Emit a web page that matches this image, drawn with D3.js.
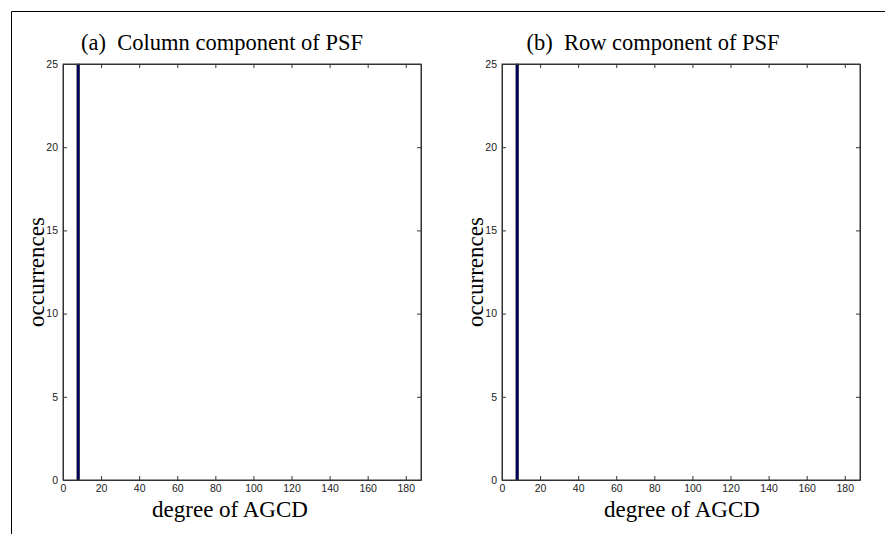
<!DOCTYPE html>
<html lang="en">
<head>
<meta charset="UTF-8">
<title>AGCD histograms</title>
<script src="https://cdnjs.cloudflare.com/ajax/libs/d3/7.8.5/d3.min.js"></script>
<style>
  body { margin: 0; background: #fff; }
  .tick text { font-family: "Liberation Sans", Arial, sans-serif; font-size: 10.5px; fill: #222; }
</style>
</head>
<body>
<svg width="885" height="534" id="canvas"></svg>
<script>
// histogram data (only one non-empty bin per panel)
const panelTitles = ["(a)\u00a0 Column component of PSF", "(b)\u00a0 Row component of PSF"];
const binDegrees = [8];
const columnCounts = [25];
const rowCounts = [25];
const xTicks = [0, 20, 40, 60, 80, 100, 120, 140, 160, 180];
const yTicks = [0, 5, 10, 15, 20, 25];

const svg = d3.select("#canvas");

// outer frame (left + top only)
svg.append("path")
  .attr("d", "M11.5,534 L11.5,11.5 L885,11.5")
  .attr("fill", "none").attr("stroke", "#000").attr("stroke-width", 1);

const panels = [
  { left: 63, right: 421, title: panelTitles[0], titleX: 222, xlabX: 230, counts: columnCounts },
  { left: 502, right: 860, title: panelTitles[1], titleX: 653, xlabX: 682, counts: rowCounts }
];
const plotTop = 64, plotBottom = 480;

panels.forEach(p => {
  const x = d3.scaleLinear().domain([0, 188]).range([p.left, p.right]);
  const y = d3.scaleLinear().domain([0, 25]).range([plotBottom, plotTop]);
  const g = svg.append("g");

  // bars
  g.selectAll("rect.bar")
    .data(binDegrees.map((d, i) => ({ deg: d, n: p.counts[i] })))
    .join("rect")
    .attr("class", "bar")
    .attr("x", d => x(d.deg - 0.7))
    .attr("width", d => x(d.deg + 0.7) - x(d.deg - 0.7))
    .attr("y", d => y(Math.min(d.n, 25)))
    .attr("height", d => plotBottom - y(Math.min(d.n, 25)))
    .attr("fill", "#000066")
    .attr("stroke", "#000").attr("stroke-width", 0.5);

  // axes with inward ticks
  g.append("g").attr("transform", `translate(0,${plotBottom})`)
    .call(d3.axisBottom(x).tickValues(xTicks).tickSizeInner(-4).tickSizeOuter(0).tickPadding(5));
  g.append("g").attr("transform", `translate(${p.left},0)`)
    .call(d3.axisLeft(y).tickValues(yTicks).tickSizeInner(-4).tickSizeOuter(0).tickPadding(5));
  // mirrored ticks top/right
  g.append("g").attr("transform", `translate(0,${plotTop})`)
    .call(d3.axisTop(x).tickValues(xTicks).tickSizeInner(-4).tickSizeOuter(0).tickFormat(""));
  g.append("g").attr("transform", `translate(${p.right},0)`)
    .call(d3.axisRight(y).tickValues(yTicks).tickSizeInner(-4).tickSizeOuter(0).tickFormat(""));
  g.selectAll(".domain").attr("stroke", "#333");
  g.selectAll(".tick line").attr("stroke", "#333");

  // box
  g.append("rect").attr("x", p.left).attr("y", plotTop)
    .attr("width", p.right - p.left).attr("height", plotBottom - plotTop)
    .attr("fill", "none").attr("stroke", "#333").attr("stroke-width", 1);

  // labels
  g.append("text").attr("x", p.titleX).attr("y", 50).attr("text-anchor", "middle")
    .attr("font-family", "'Liberation Serif', 'Times New Roman', serif").attr("font-size", 22.5)
    .text(p.title);
  g.append("text").attr("x", p.xlabX).attr("y", 517).attr("text-anchor", "middle")
    .attr("font-family", "'Liberation Serif', 'Times New Roman', serif").attr("font-size", 23)
    .text("degree of AGCD");
  g.append("text")
    .attr("transform", `translate(${p.left - 19},${(plotTop + plotBottom) / 2}) rotate(-90)`)
    .attr("text-anchor", "middle")
    .attr("font-family", "'Liberation Serif', 'Times New Roman', serif").attr("font-size", 23)
    .text("occurrences");
});
</script>
</body>
</html>
